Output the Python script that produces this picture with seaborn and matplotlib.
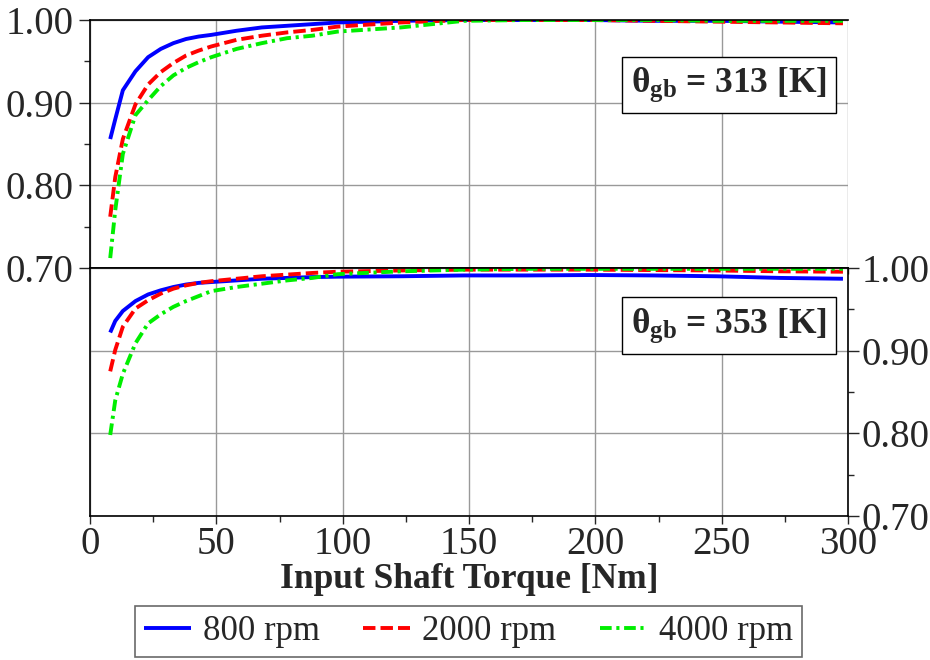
import numpy as np
import pandas as pd
import matplotlib
matplotlib.use("Agg")
import matplotlib.pyplot as plt
import seaborn as sns
from matplotlib.ticker import MultipleLocator

# ---- data -----------------------------------------------------------------
torque = [8, 10, 13, 18, 23, 28, 33, 38, 43, 48, 58, 68, 78, 88, 98,
          123, 148, 173, 198, 223, 248, 273, 298]

# theta_gb = 313 K
eff313_800 = [0.856, 0.880, 0.915, 0.938, 0.955, 0.965, 0.972, 0.977, 0.980, 0.982,
              0.987, 0.991, 0.993, 0.995, 0.997, 0.999, 1.000, 1.000, 1.000, 0.999,
              0.999, 0.998, 0.997]
eff313_2000 = [0.762, 0.810, 0.856, 0.898, 0.922, 0.937, 0.948, 0.957, 0.963, 0.968,
               0.976, 0.981, 0.985, 0.988, 0.992, 0.997, 1.000, 1.000, 1.000, 0.999,
               0.998, 0.997, 0.996]
eff313_4000 = [0.712, 0.770, 0.838, 0.885, 0.903, 0.920, 0.933, 0.942, 0.949, 0.955,
               0.965, 0.972, 0.978, 0.981, 0.986, 0.991, 0.999, 1.000, 1.000, 1.000,
               0.999, 0.999, 0.999]

# theta_gb = 353 K
eff353_800 = [0.922, 0.936, 0.948, 0.960, 0.968, 0.973, 0.977, 0.980, 0.982, 0.983,
              0.985, 0.987, 0.988, 0.989, 0.9895, 0.990, 0.991, 0.991, 0.9915, 0.991,
              0.990, 0.988, 0.987]
eff353_2000 = [0.875, 0.901, 0.929, 0.951, 0.961, 0.969, 0.975, 0.979, 0.982, 0.984,
               0.987, 0.990, 0.992, 0.994, 0.9955, 0.997, 0.998, 0.998, 0.998, 0.9975,
               0.997, 0.996, 0.9955]
eff353_4000 = [0.798, 0.840, 0.872, 0.909, 0.933, 0.944, 0.953, 0.960, 0.966, 0.972,
               0.977, 0.981, 0.985, 0.988, 0.9925, 0.996, 0.998, 0.999, 0.999, 0.999,
               0.999, 0.999, 0.999]

speed_labels = ["800 rpm", "2000 rpm", "4000 rpm"]
panel_labels = ["313", "353"]
x_ticks = [0, 50, 100, 150, 200, 250, 300]
y_ticks = [0.70, 0.80, 0.90, 1.00]

# ---- style ----------------------------------------------------------------
sns.set_style("white")
plt.rcParams["font.family"] = ["Liberation Serif", "DejaVu Serif"]
plt.rcParams["mathtext.fontset"] = "custom"
plt.rcParams["mathtext.rm"] = "Liberation Serif"
plt.rcParams["mathtext.it"] = "Liberation Serif:italic"
plt.rcParams["mathtext.bf"] = "Liberation Serif:bold"

colors = ["#0000ff", "#ff0000", "#00ee00"]
styles = ["-", (0, (3.2, 1.3)), (0, (3.0, 1.2, 0.8, 1.2))]
LW = 2.8
TICK_FS = 28

fig = plt.figure(figsize=(9.3, 6.6), dpi=100)
W, H = 930, 660
L, R = 90, 848
ax1 = fig.add_axes([L / W, 1 - 268 / H, (R - L) / W, 248 / H])
ax2 = fig.add_axes([L / W, 1 - 516 / H, (R - L) / W, 248 / H])

data_sets = [[eff313_800, eff313_2000, eff313_4000],
             [eff353_800, eff353_2000, eff353_4000]]

for ax, series in zip([ax1, ax2], data_sets):
    for vals, lab, c, ls in zip(series, speed_labels, colors, styles):
        df = pd.DataFrame({"torque": torque, "eff": vals})
        sns.lineplot(data=df, x="torque", y="eff", ax=ax, color=c,
                     linestyle=ls, linewidth=LW, label=lab, legend=False,
                     clip_on=True, solid_capstyle="butt", dash_capstyle="butt")
    ax.set_xlim(0, 300)
    ax.set_ylim(0.70, 1.00)
    ax.set_xlabel("")
    ax.set_ylabel("")
    ax.grid(True, which="major", color="#999999", linewidth=1.0)
    ax.set_axisbelow(True)
    ax.xaxis.set_major_locator(MultipleLocator(50))
    ax.xaxis.set_minor_locator(MultipleLocator(25))
    ax.yaxis.set_major_locator(MultipleLocator(0.1))
    ax.yaxis.set_minor_locator(MultipleLocator(0.05))
    for s in ax.spines.values():
        s.set_color("black")
        s.set_linewidth(1.2)

# top panel
ax1.spines["right"].set_visible(False)
ax1.tick_params(axis="y", which="major", direction="out", length=8, width=1,
                left=True, right=False, labelsize=TICK_FS, pad=4)
ax1.tick_params(axis="y", which="minor", direction="out", length=4, width=1,
                left=True, right=False)
ax1.tick_params(axis="x", which="both", direction="out", length=4, width=1,
                bottom=True, labelbottom=False)
ax1.set_yticks(y_ticks)
ax1.set_yticklabels([f"{v:.2f}" for v in y_ticks])

# bottom panel
ax2.yaxis.tick_right()
ax2.tick_params(axis="y", which="major", direction="out", length=8, width=1,
                left=False, right=True, labelleft=False, labelright=True,
                labelsize=TICK_FS, pad=2)
ax2.tick_params(axis="y", which="minor", direction="out", length=4, width=1,
                left=False, right=True)
ax2.tick_params(axis="x", which="major", direction="out", length=6, width=1,
                bottom=True, labelsize=TICK_FS, pad=1)
ax2.tick_params(axis="x", which="minor", direction="out", length=4, width=1,
                bottom=True)
ax2.set_yticks(y_ticks)
ax2.set_yticklabels([f"{v:.2f}" for v in y_ticks])
ax2.set_xticks(x_ticks)
ax2.set_xticklabels([str(v) for v in x_ticks])
ax2.set_xlabel("Input Shaft Torque [Nm]", fontsize=25.5, fontweight="bold",
               labelpad=0)

# annotation boxes
box = dict(boxstyle="square,pad=0.25", fc="white", ec="black", lw=1.0)
for ax, lab, yfrac in [(ax1, panel_labels[0], 0.738), (ax2, panel_labels[1], 0.768)]:
    ax.text(0.843, yfrac, r"θ$_{\mathbf{gb}}$ = " + lab + " [K]",
            transform=ax.transAxes, ha="center", va="center",
            fontsize=25.5, fontweight="bold", bbox=box, zorder=10)

# legend
handles, labels = ax2.get_legend_handles_labels()
leg = fig.legend(handles, labels, ncol=3, loc="center",
                 bbox_to_anchor=(468.5 / W, 1 - 631.5 / H), fontsize=25,
                 frameon=True, fancybox=False, edgecolor="#444444",
                 handlelength=1.35, columnspacing=1.25, handletextpad=0.35,
                 borderpad=0.25, borderaxespad=0)
leg.get_frame().set_linewidth(1.2)

fig.savefig("out.png", dpi=100)
